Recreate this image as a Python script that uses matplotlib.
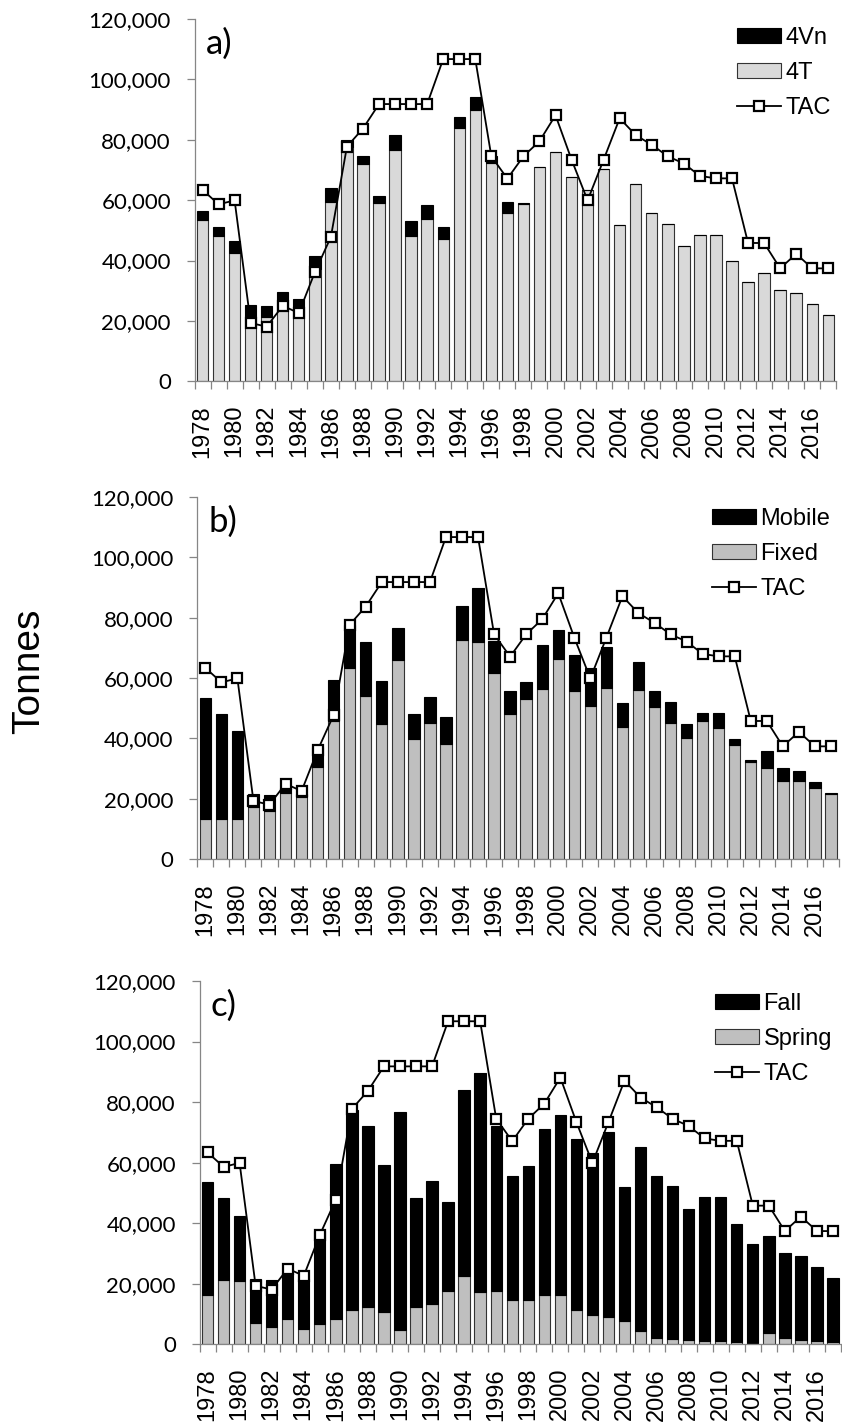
import numpy as np
import matplotlib
matplotlib.use('Agg')
import matplotlib.pyplot as plt
from matplotlib.ticker import FuncFormatter, FixedLocator, FixedFormatter

plt.rcParams['font.family'] = ['Liberation Sans', 'DejaVu Sans']

# data (tonnes)
years = list(range(1978, 2018))

tac = [63400, 58600, 59900, 19300, 18100, 25000, 22600, 36100, 47800, 77700,
       83700, 91800, 91800, 91800, 91800, 106700, 106700, 106700, 74500, 67100,
       74500, 79500, 88100, 73400, 59900, 73400, 87100, 81500, 78300, 74500,
       72100, 68000, 67200, 67200, 45800, 45800, 37400, 42200, 37400, 37400]

catch_4t = [53500, 48200, 42500, 21500, 21200, 23700, 21500, 37300, 59500, 77500,
            72000, 59200, 76600, 48200, 53900, 47100, 84000, 89700, 72200, 55600,
            58800, 71000, 75900, 67800, 63300, 70200, 51800, 65300, 55700, 52200,
            44800, 48600, 48600, 39800, 33000, 35900, 30200, 29100, 25600, 21800]

catch_4vn = [3000, 3000, 4100, 3850, 3800, 6000, 5800, 4300, 4400, 2300,
             2600, 2300, 5000, 4800, 4400, 4000, 3400, 4300, 2300, 3700,
             300, 0, 0, 0, 0, 0, 0, 0, 0, 0,
             0, 0, 0, 0, 0, 0, 0, 0, 0, 0]

fixed = [13350, 13350, 13350, 17400, 16100, 21800, 20700, 30700, 45900, 63400,
         54100, 44700, 66000, 39800, 45000, 38100, 72600, 72000, 61800, 48000,
         53000, 56500, 66300, 55700, 50800, 56800, 43800, 56100, 50400, 45100,
         40300, 45900, 43400, 37700, 32100, 30300, 26000, 26000, 23600, 21600]

mobile = [40150, 34850, 29150, 4100, 5100, 1900, 800, 6600, 13600, 14100,
          17900, 14500, 10600, 8400, 8900, 9000, 11400, 17700, 10400, 7600,
          5800, 14500, 9600, 12100, 12500, 13400, 8000, 9200, 5300, 7100,
          4500, 2700, 5200, 2100, 900, 5600, 4200, 3100, 2000, 200]

spring = [16300, 21200, 20900, 7100, 5800, 8200, 5100, 6800, 8200, 11400,
          12400, 10800, 4700, 12400, 13200, 17700, 22600, 17400, 17700, 14600,
          14600, 16300, 16300, 11300, 9700, 8900, 7800, 4400, 2200, 1800,
          1400, 1100, 1100, 800, 400, 3600, 2200, 1500, 1100, 700]

fall = [37200, 27000, 21600, 14400, 15400, 15500, 16400, 30500, 51300, 66100,
        59600, 48400, 71900, 35800, 40700, 29400, 61400, 72300, 54500, 41000,
        44200, 54700, 59600, 56500, 53600, 61300, 44000, 60900, 53500, 50400,
        43400, 47500, 47500, 39000, 32600, 32300, 28000, 27600, 24500, 21100]

W, H = 842, 1422
fig = plt.figure(figsize=(W / 100, H / 100), dpi=100)
fig.patch.set_facecolor('white')

axis_gray = '#868686'
axes = []


def panel(rect, bottom_vals, top_vals, bottom_color, names, tag, leg_xy):
    left, top, right, zero = rect
    ax = fig.add_axes([left / W, 1 - zero / H, (right - left) / W, (zero - top) / H])
    x = np.arange(len(years))
    b_low = ax.bar(x, bottom_vals, width=0.71, color=bottom_color, edgecolor='#333333',
                   linewidth=0.8, zorder=2)
    b_top = ax.bar(x, top_vals, bottom=bottom_vals, width=0.71, color='black',
                   edgecolor='black', linewidth=0.8, zorder=2)
    ln, = ax.plot(x, tac, color='black', lw=1.3, marker='s', ms=7.5, mfc='white',
                  mec='black', mew=1.6, zorder=3, clip_on=False)

    ax.set_xlim(-0.5, len(years) - 0.5)
    ax.set_ylim(0, 120000)
    ax.set_yticks(np.arange(0, 120001, 20000))
    ax.yaxis.set_major_formatter(FuncFormatter(lambda v, p: f'{int(v):,}'))
    ax.tick_params(axis='y', direction='out', length=6, width=0.9, color=axis_gray,
                   pad=11)

    ax.xaxis.set_major_locator(FixedLocator(x[::2]))
    ax.xaxis.set_major_formatter(FixedFormatter([str(y) for y in years[::2]]))
    ax.xaxis.set_minor_locator(FixedLocator(np.arange(-0.5, len(years), 1)))
    ax.tick_params(axis='x', which='major', length=0, pad=17)
    ax.tick_params(axis='x', which='minor', direction='out', length=6, width=0.9,
                   color=axis_gray)

    for s in ['top', 'right']:
        ax.spines[s].set_visible(False)
    for s in ['left', 'bottom']:
        ax.spines[s].set_color(axis_gray)
        ax.spines[s].set_linewidth(0.9)

    ax.text(0.017, 0.975, tag, transform=ax.transAxes, ha='left', va='top',
            fontsize=25, fontfamily='Lato')

    ax.legend([b_top, b_low, ln], [names[0], names[1], 'TAC'], loc='upper left',
              bbox_to_anchor=(leg_xy[0] / W, 1 - leg_xy[1] / H),
              bbox_transform=fig.transFigure, frameon=False, borderpad=0,
              borderaxespad=0, handlelength=1.85, handleheight=0.6,
              handletextpad=0.2, labelspacing=0.55,
              prop={'family': 'Liberation Sans', 'size': 17})
    axes.append(ax)
    return ax


panel((194.5, 18.9, 836.3, 381.3), catch_4t, catch_4vn, '#d9d9d9',
      ['4Vn', '4T'], 'a)', (737, 27))
panel((197.3, 496.9, 839.0, 859.3), fixed, mobile, '#bfbfbf',
      ['Mobile', 'Fixed'], 'b)', (712, 508))
panel((199.5, 981.0, 841.0, 1344.3), spring, fall, '#bfbfbf',
      ['Fall', 'Spring'], 'c)', (715, 993))

fig.text(29 / W, 1 - 671 / H, 'Tonnes', rotation=90, ha='center', va='center',
         fontsize=28)

# set tick label fonts once the ticks exist
fig.canvas.draw()
for ax in axes:
    for lab in ax.get_yticklabels():
        lab.set_fontfamily('Lato')
        lab.set_fontsize(16)
    for lab in ax.get_xticklabels():
        lab.set_fontfamily('Liberation Sans')
        lab.set_fontsize(17)
        lab.set_rotation(90)

fig.savefig('out.png', dpi=100)
